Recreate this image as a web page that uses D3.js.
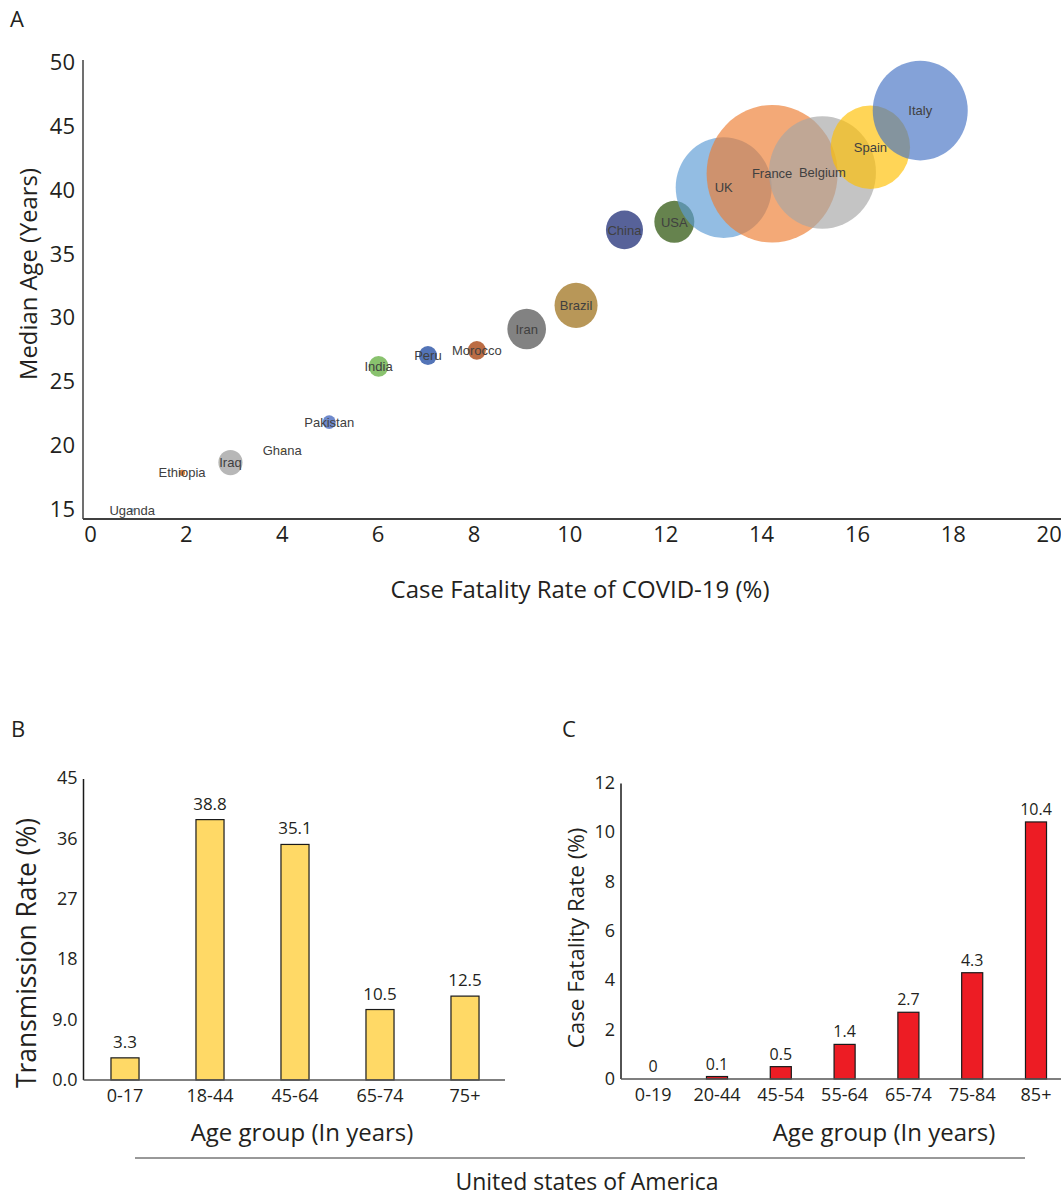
<!DOCTYPE html>
<meta charset="utf-8">
<style>
  body { margin: 0; background: #fff; }
  svg { display: block; }
</style>
<svg id="chart" width="1061" height="1197"></svg>
<script src="https://d3js.org/d3.v7.min.js"></script>
<script>

// ------------------------------------------------------------------
//                               DATA
// ------------------------------------------------------------------
// Panel A : bubble chart (CFR vs median age)
var countries  = ["Uganda", "Ethiopia", "Iraq", "Ghana", "Pakistan", "India", "Peru",
                  "Morocco", "Iran", "Brazil", "China", "USA", "UK", "France",
                  "Belgium", "Spain", "Italy"];
var cfr        = [0.88, 1.92, 2.93, 4.01, 4.99, 6.02, 7.05, 8.07, 9.11, 10.14,
                  11.15, 12.19, 13.22, 14.23, 15.28, 16.28, 17.32];
var medianAge  = [14.92, 17.84, 18.64, 19.57, 21.82, 26.19, 27.04, 27.44, 29.11, 30.97,
                  36.89, 37.52, 40.21, 41.29, 41.39, 43.37, 46.25];
var bubbleSize = [0.09, 0.21, 3.4, 0.05, 1.0, 2.3, 1.9, 1.9, 8.7, 10.8,
                  8.0, 9.3, 53.7, 100, 66.7, 36.7, 52.6];
var xTicksA = [0, 2, 4, 6, 8, 10, 12, 14, 16, 18, 20];
var yTicksA = [15, 20, 25, 30, 35, 40, 45, 50];

// Panel B : transmission rate by age group (USA)
var ageGroupsB   = ["0-17", "18-44", "45-64", "65-74", "75+"];
var transmission = [3.3, 38.8, 35.1, 10.5, 12.5];
var yTicksB      = [0, 9, 18, 27, 36, 45];
var yTickLabelsB = ["0.0", "9.0", "18", "27", "36", "45"];

// Panel C : case fatality rate by age group (USA)
var ageGroupsC = ["0-19", "20-44", "45-54", "55-64", "65-74", "75-84", "85+"];
var fatality   = [0, 0.1, 0.5, 1.4, 2.7, 4.3, 10.4];
var yTicksC    = [0, 2, 4, 6, 8, 10, 12];

// ------------------------------------------------------------------
//                              STYLE
// ------------------------------------------------------------------
var myriad = "'Open Sans', 'Noto Sans', sans-serif";
var arial  = "'Liberation Sans', Arial, sans-serif";
var ink    = "#231f20";

// bubble colours (Excel palette); the big ones are translucent
var bubbleColor = {
  Uganda: "#97bfe3", Ethiopia: "#e27c35", Iraq: "#b3b3b3", Ghana: "#f7c64a",
  Pakistan: "#6683c9", India: "#83bf66", Peru: "#4a6db3", Morocco: "#b7643a",
  Iran: "#7b7b7b", Brazil: "#b4914f", China: "#4e5a94", USA: "#5e7c45",
  UK: "#5B9BD5", France: "#ED7D31", Belgium: "#A5A5A5", Spain: "#FFC000", Italy: "#4472C4"
};
var translucent = ["UK", "France", "Belgium", "Spain", "Italy"];

var svg = d3.select("#chart");

function styleAxis(g, size) {
  g.attr("font-family", myriad).attr("font-size", size);
  g.select(".domain").remove();
  g.selectAll("text").attr("fill", ink);
}

function panelLetter(txt, x, y) {
  svg.append("text").attr("x", x).attr("y", y)
     .attr("font-family", myriad).attr("font-size", 22).attr("fill", ink)
     .text(txt);
}

function title(txt, x, y, size, rotate) {
  svg.append("text")
     .attr("transform", "translate(" + x + "," + y + ")" + (rotate ? " rotate(-90)" : ""))
     .attr("text-anchor", "middle")
     .attr("font-family", myriad).attr("font-size", size).attr("fill", ink)
     .text(txt);
}

// ------------------------------------------------------------------
//                        PANEL A : bubbles
// ------------------------------------------------------------------
var xA = d3.scaleLinear().domain([0, 20]).range([90, 1048.7]);
var yA = d3.scaleLinear().domain([15, 50]).range([509, 62.7]);
var rA = d3.scaleSqrt().domain([0, 100]).range([0, 65.5]);

panelLetter("A", 10, 27);

var pts = countries.map(function(c, i) {
  return { name: c, x: cfr[i], y: medianAge[i], s: bubbleSize[i] };
});

var gA = svg.append("g");

gA.selectAll("ellipse")
  .data(pts)
  .enter().append("ellipse")
    .attr("cx", function(d) { return xA(d.x); })
    .attr("cy", function(d) { return yA(d.y); })
    .attr("rx", function(d) { return rA(d.s); })
    .attr("ry", function(d) { return rA(d.s) * 1.05; })
    .attr("fill", function(d) { return bubbleColor[d.name]; })
    .attr("fill-opacity", function(d) { return translucent.indexOf(d.name) >= 0 ? 0.66 : 0.95; });

gA.selectAll("text.lbl")
  .data(pts)
  .enter().append("text")
    .attr("class", "lbl")
    .attr("x", function(d) { return xA(d.x); })
    .attr("y", function(d) { return yA(d.y); })
    .attr("dy", "0.36em")
    .attr("text-anchor", "middle")
    .attr("font-family", arial)
    .attr("font-size", 13)
    .attr("fill", "#404040")
    .text(function(d) { return d.name; });

// axes
svg.append("g")
   .attr("transform", "translate(83,0)")
   .call(d3.axisLeft(yA).tickValues(yTicksA).tickSize(0).tickPadding(8))
   .call(styleAxis, 22);

svg.append("g")
   .attr("transform", "translate(0,519)")
   .call(d3.axisBottom(xA).tickValues(xTicksA).tickSize(0).tickPadding(7))
   .call(styleAxis, 22);

svg.append("line").attr("x1", 83).attr("x2", 83).attr("y1", 60).attr("y2", 519)
   .attr("stroke", "#404040").attr("stroke-width", 1.5);
svg.append("line").attr("x1", 83).attr("x2", 1061).attr("y1", 519).attr("y2", 519)
   .attr("stroke", "#404040").attr("stroke-width", 1.8);

title("Median Age (Years)", 37, 274, 23.8, true);
title("Case Fatality Rate of COVID-19 (%)", 580, 598, 24, false);

// ------------------------------------------------------------------
//                   bar panel helper (B and C)
// ------------------------------------------------------------------
function barPanel(o) {
  var x = d3.scaleBand().domain(o.cats).range(o.xRange)
            .paddingInner(0.67).paddingOuter(0.335);
  var y = d3.scaleLinear().domain(o.yDomain).range(o.yRange);
  var g = svg.append("g");

  g.selectAll("rect")
   .data(o.values)
   .enter().append("rect")
     .attr("x", function(d, i) { return x(o.cats[i]); })
     .attr("y", function(d) { return y(d); })
     .attr("width", x.bandwidth())
     .attr("height", function(d) { return y(0) - y(d); })
     .attr("fill", o.fill)
     .attr("stroke", "#1a1a1a")
     .attr("stroke-width", 1.2);

  g.selectAll("text.val")
   .data(o.values)
   .enter().append("text")
     .attr("class", "val")
     .attr("x", function(d, i) { return x(o.cats[i]) + x.bandwidth() / 2; })
     .attr("y", function(d) { return y(d) - o.labelGap; })
     .attr("text-anchor", "middle")
     .attr("font-family", myriad).attr("font-size", o.valSize).attr("fill", ink)
     .text(function(d) { return String(d); });

  // y axis
  var ya = d3.axisLeft(y).tickValues(o.ticks).tickSize(0).tickPadding(6);
  if (o.tickLabels) ya.tickFormat(function(d, i) { return o.tickLabels[i]; });
  svg.append("g").attr("transform", "translate(" + o.axisX + ",0)")
     .call(ya).call(styleAxis, 18);

  // x axis labels
  svg.append("g").attr("transform", "translate(0," + y(0) + ")")
     .call(d3.axisBottom(x).tickSize(0).tickPadding(9))
     .call(styleAxis, 18);

  svg.append("line").attr("x1", o.axisX).attr("x2", o.axisX)
     .attr("y1", o.yRange[1] + 1).attr("y2", y(0))
     .attr("stroke", "#1a1a1a").attr("stroke-width", 1.5);
  svg.append("line").attr("x1", o.axisX).attr("x2", o.xEnd)
     .attr("y1", y(0)).attr("y2", y(0))
     .attr("stroke", "#555").attr("stroke-width", 1.5);

  title(o.yTitle, o.titleX, o.titleY, o.titleSize, true);
  title("Age group (In years)", o.xTitleX, 1141, 24, false);
}

// ------------------------------------------------------------------
//                PANEL B : transmission rate
// ------------------------------------------------------------------
panelLetter("B", 11, 737);
barPanel({
  cats: ageGroupsB, values: transmission,
  xRange: [82.5, 507.5], yDomain: [0, 45], yRange: [1080, 778],
  ticks: yTicksB, tickLabels: yTickLabelsB,
  fill: "#FFD966", axisX: 83.5, xEnd: 505,
  labelGap: 10, valSize: 17,
  yTitle: "Transmission Rate (%)", titleX: 36, titleY: 953, titleSize: 26.4,
  xTitleX: 302
});

// ------------------------------------------------------------------
//                PANEL C : case fatality rate
// ------------------------------------------------------------------
panelLetter("C", 562, 737);
barPanel({
  cats: ageGroupsC, values: fatality,
  xRange: [621.3, 1067.9], yDomain: [0, 12], yRange: [1079, 782.4],
  ticks: yTicksC,
  fill: "#ED1C24", axisX: 621, xEnd: 1061,
  labelGap: 7, valSize: 16,
  yTitle: "Case Fatality Rate (%)", titleX: 584, titleY: 938, titleSize: 22.4,
  xTitleX: 884
});

// ------------------------------------------------------------------
//                         footer
// ------------------------------------------------------------------
svg.append("line").attr("x1", 135).attr("x2", 1025).attr("y1", 1158).attr("y2", 1158)
   .attr("stroke", "#333").attr("stroke-width", 1);
title("United states of America", 587, 1190, 23, false);

</script>
